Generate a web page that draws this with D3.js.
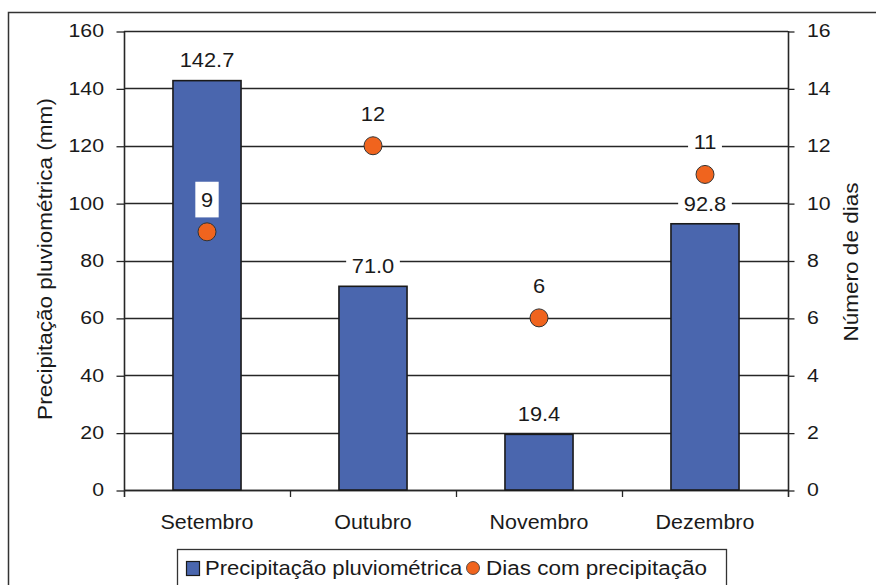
<!DOCTYPE html>
<html>
<head>
<meta charset="utf-8">
<script src="https://cdn.jsdelivr.net/npm/d3@7/dist/d3.min.js"></script>
<style>
  html, body { margin: 0; padding: 0; background: #fff; }
  svg { display: block; font-family: "Liberation Sans", Arial, sans-serif; }
  text { fill: #1a1a1a; }
</style>
</head>
<body>
<svg id="chart" width="876" height="585"></svg>
<script>
// Monthly rainfall (mm) and number of rainy days
const categories = ["Setembro", "Outubro", "Novembro", "Dezembro"];
const precipitation = [142.7, 71.0, 19.4, 92.8];
const rainyDays = [9, 12, 6, 11];
const precipTicks = [0, 20, 40, 60, 80, 100, 120, 140, 160];
const dayTicks = [0, 2, 4, 6, 8, 10, 12, 14, 16];
const seriesNames = ["Precipitação pluviométrica", "Dias com precipitação"];
const axisTitles = ["Precipitação pluviométrica (mm)", "Número de dias"];

const barColor = "#4a66ae";
const dotColor = "#f0641e";
const lineColor = "#262626";

const svg = d3.select("#chart");
const plot = { left: 124, right: 788, top: 31, bottom: 490 };

const x = d3.scaleBand().domain(categories).range([plot.left, plot.right]).padding(0);
const yL = d3.scaleLinear().domain([0, 160]).range([plot.bottom, plot.top]);
const yR = d3.scaleLinear().domain([0, 16]).range([plot.bottom, plot.top]);
const barW = x.bandwidth() * 0.41;

// Text drawn with a slight horizontal stretch, optionally on a white box
function label(parent, px, py, str, o) {
  const g = parent.append("g")
    .attr("transform", `translate(${px},${py}) rotate(${o.rot || 0}) scale(${o.k || 1},1)`);
  const t = g.append("text")
    .attr("text-anchor", o.anchor || "middle")
    .attr("dy", o.dy || "0.35em")
    .style("font-size", o.size + "px")
    .text(str);
  if (o.bg) {
    const b = t.node().getBBox();
    g.insert("rect", "text")
      .attr("x", b.x - o.padX).attr("y", b.y - o.padY)
      .attr("width", b.width + 2 * o.padX).attr("height", b.height + 2 * o.padY)
      .attr("fill", "#fff");
  }
  return g;
}

// Outer frame
svg.append("rect")
  .attr("x", 8.5).attr("y", 12.5).attr("width", 900).attr("height", 600)
  .attr("fill", "none").attr("stroke", "#333").attr("stroke-width", 1.5);

// Horizontal gridlines
svg.append("g").selectAll("line").data(precipTicks).join("line")
  .attr("x1", plot.left).attr("x2", plot.right)
  .attr("y1", d => Math.round(yL(d)) + 0.5).attr("y2", d => Math.round(yL(d)) + 0.5)
  .attr("stroke", lineColor).attr("stroke-width", 1.3);

// Left axis
const leftAxis = d3.axisLeft(yL).tickValues(precipTicks).tickSize(8).tickFormat("");
const gl = svg.append("g").attr("transform", `translate(${plot.left + 0.5},0.5)`).call(leftAxis);
gl.select(".domain").remove();
gl.selectAll("line").attr("stroke", lineColor).attr("stroke-width", 1.3);
svg.append("line").attr("x1", plot.left + 0.5).attr("x2", plot.left + 0.5)
  .attr("y1", plot.top).attr("y2", plot.bottom + 7).attr("stroke", lineColor).attr("stroke-width", 1.6);
precipTicks.forEach(v => label(svg, 104, yL(v), String(v), { size: 18.5, k: 1.15, anchor: "end" }));

// Right axis
const rightAxis = d3.axisRight(yR).tickValues(dayTicks).tickSize(6).tickFormat("");
const gr = svg.append("g").attr("transform", `translate(${plot.right + 0.5},0.5)`).call(rightAxis);
gr.select(".domain").remove();
gr.selectAll("line").attr("stroke", lineColor).attr("stroke-width", 1.3);
svg.append("line").attr("x1", plot.right + 0.5).attr("x2", plot.right + 0.5)
  .attr("y1", plot.top).attr("y2", plot.bottom + 7).attr("stroke", lineColor).attr("stroke-width", 1.6);
dayTicks.forEach(v => label(svg, 807, yR(v), String(v), { size: 18.5, k: 1.15, anchor: "start" }));

// Bottom axis with ticks between categories
svg.append("line").attr("x1", plot.left).attr("x2", plot.right)
  .attr("y1", plot.bottom + 0.5).attr("y2", plot.bottom + 0.5)
  .attr("stroke", lineColor).attr("stroke-width", 1.6);
svg.append("g").selectAll("line").data(categories.slice(1)).join("line")
  .attr("x1", d => Math.round(x(d)) + 0.5).attr("x2", d => Math.round(x(d)) + 0.5)
  .attr("y1", plot.bottom).attr("y2", plot.bottom + 7)
  .attr("stroke", lineColor).attr("stroke-width", 1.3);
categories.forEach(c => label(svg, x(c) + x.bandwidth() / 2, 522, c, { size: 19.5, k: 1.1 }));

// Axis titles
label(svg, 45, 259, axisTitles[0], { size: 20.5, k: 1.1, rot: -90 });
label(svg, 851, 262, axisTitles[1], { size: 20.5, k: 1.1, rot: -90 });

// Bars
svg.append("g").selectAll("rect").data(precipitation).join("rect")
  .attr("x", (d, i) => x(categories[i]) + (x.bandwidth() - barW) / 2)
  .attr("y", d => yL(d))
  .attr("width", barW)
  .attr("height", d => yL(0) - yL(d))
  .attr("fill", barColor).attr("stroke", "#1a1a1a").attr("stroke-width", 1.6);

// Dots for rainy days
svg.append("g").selectAll("circle").data(rainyDays).join("circle")
  .attr("cx", (d, i) => x(categories[i]) + x.bandwidth() / 2)
  .attr("cy", d => yR(d))
  .attr("r", 9)
  .attr("fill", dotColor).attr("stroke", "#333").attr("stroke-width", 1);

// Value labels
precipitation.forEach((v, i) => label(svg, x(categories[i]) + x.bandwidth() / 2, yL(v) - 20, v.toFixed(1),
  { size: 19.5, k: 1.12, bg: true, padX: 5, padY: 2 }));
rainyDays.forEach((v, i) => label(svg, x(categories[i]) + x.bandwidth() / 2, yR(v) - 32, String(v),
  { size: 19.5, k: 1.12, bg: true, padX: 5, padY: 7 }));

// Legend
const lg = svg.append("g");
lg.append("rect").attr("x", 177.5).attr("y", 549.5).attr("width", 549).attr("height", 50)
  .attr("fill", "#fff").attr("stroke", "#333").attr("stroke-width", 1.3);
lg.append("rect").attr("x", 186.5).attr("y", 561.5).attr("width", 13).attr("height", 14)
  .attr("fill", barColor).attr("stroke", "#1a1a1a").attr("stroke-width", 1.2);
label(lg, 205, 568, seriesNames[0], { size: 21, k: 1.05, anchor: "start" });
lg.append("circle").attr("cx", 473).attr("cy", 568).attr("r", 6.5)
  .attr("fill", dotColor).attr("stroke", "#333").attr("stroke-width", 0.8);
label(lg, 486, 568, seriesNames[1], { size: 21, k: 1.07, anchor: "start" });
</script>
</body>
</html>
